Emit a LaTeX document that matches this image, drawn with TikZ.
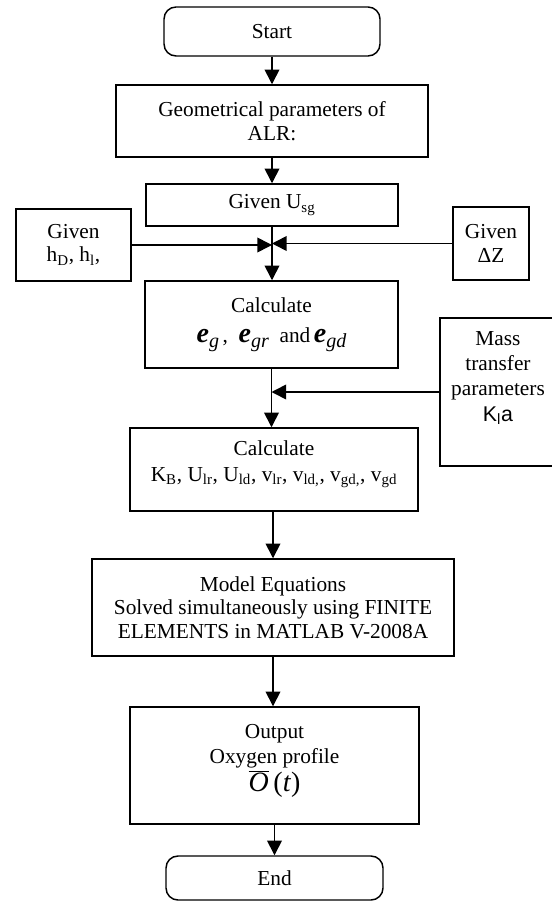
\documentclass[tikz,border=0pt]{standalone}
\usepackage{fontspec}
\setmainfont{Liberation Serif}
\newfontfamily\arialf{Liberation Sans}
\usetikzlibrary{arrows.meta}
\newcommand{\ebold}[1]{{\fontsize{21}{21}\selectfont\bfseries\itshape e}\raisebox{-4pt}{\fontsize{15}{15}\selectfont\itshape #1}}
\tikzset{
  box/.style={draw, line width=1.1pt, inner sep=0pt, align=center, font=\fontsize{16}{17.5}\selectfont},
  rbox/.style={box, rounded corners=9pt},
  txt/.style={inner sep=0pt, align=center, font=\fontsize{16}{17.5}\selectfont},
  arr/.style={line width=1.2pt, -{Triangle[length=11pt,width=11pt]}}
}
\begin{document}
\begin{tikzpicture}[x=0.75pt,y=-0.75pt]
\useasboundingbox (0,0) rectangle (551,902);
% boxes
\node[rbox, minimum width=162pt, minimum height=36.75pt] (start) at (272,31.5) {Start};
\node[box, minimum width=234pt, minimum height=54pt] (geom) at (272,121) {Geometrical parameters of\\ALR:};
\node[box, minimum width=189pt, minimum height=31.5pt] (usg) at (272,205) {Given U\textsubscript{sg}};
\node[box, minimum width=86.25pt, minimum height=54pt] (hd) at (73.5,245) {Given\\h\textsubscript{D}, h\textsubscript{l},};
\node[box, minimum width=57pt, minimum height=54.75pt] (dz) at (491,243.5) {Given\\ΔZ};
\node[box, minimum width=189.75pt, minimum height=65.25pt] (calc1) at (271.5,324.5) {Calculate\\[5pt]\ebold{g}\,,\ \ \ebold{gr}\ \ and\,\ebold{gd}};
\node[box, minimum width=87pt, minimum height=111pt] (mass) at (498,392) {};
\node[txt] (masstxt) at (498,378) {Mass\\[1.5pt]transfer\\[1.5pt]parameters\\[1.5pt]{\arialf K\textsubscript{l}a}};
\node[box, minimum width=216pt, minimum height=62.25pt] (calc2) at (274,469.5) {};
\node[txt] (calc2txt) at (274,464) {Calculate\\[2pt]K\textsubscript{B}, U\textsubscript{lr}, U\textsubscript{ld}, v\textsubscript{lr}, v\textsubscript{ld,}, v\textsubscript{gd,}, v\textsubscript{gd}};
\node[box, minimum width=271.5pt, minimum height=72.75pt] (model) at (273,607.5) {Model Equations\\Solved simultaneously using FINITE\\ELEMENTS in MATLAB V-2008A};
\node[box, minimum width=216.75pt, minimum height=87.75pt] (out) at (274.5,765.5) {};
\node[txt] (outtxt) at (274.5,761) {Output\\[1pt]Oxygen profile\\[1pt]{\fontsize{21}{21}\selectfont$\overline{\mbox{\itshape O}}$\,(\textit{t})}};
\node[rbox, minimum width=162.75pt, minimum height=33pt] (end) at (274.5,878) {End};
% connectors
\draw[arr] (start.south) -- (start.south |- geom.north);
\draw[arr] (geom.south) -- (geom.south |- usg.north);
\coordinate (jn) at (272,245);
\draw[arr] (usg.south) -- (usg.south |- calc1.north);
\draw[arr] (hd.east) -- (hd.east -| jn);
\draw[arr] (dz.west) -- (dz.west -| jn);
\draw[arr] (calc1.south) -- (calc1.south |- calc2.north);
\draw[arr] (mass.west) -- (mass.west -| calc1.south);
\draw[arr] (model.north |- calc2.south) -- (model.north);
\draw[arr] (model.south) -- (model.south |- out.north);
\draw[arr] (out.south) -- (out.south |- end.north);
\end{tikzpicture}
\end{document}
